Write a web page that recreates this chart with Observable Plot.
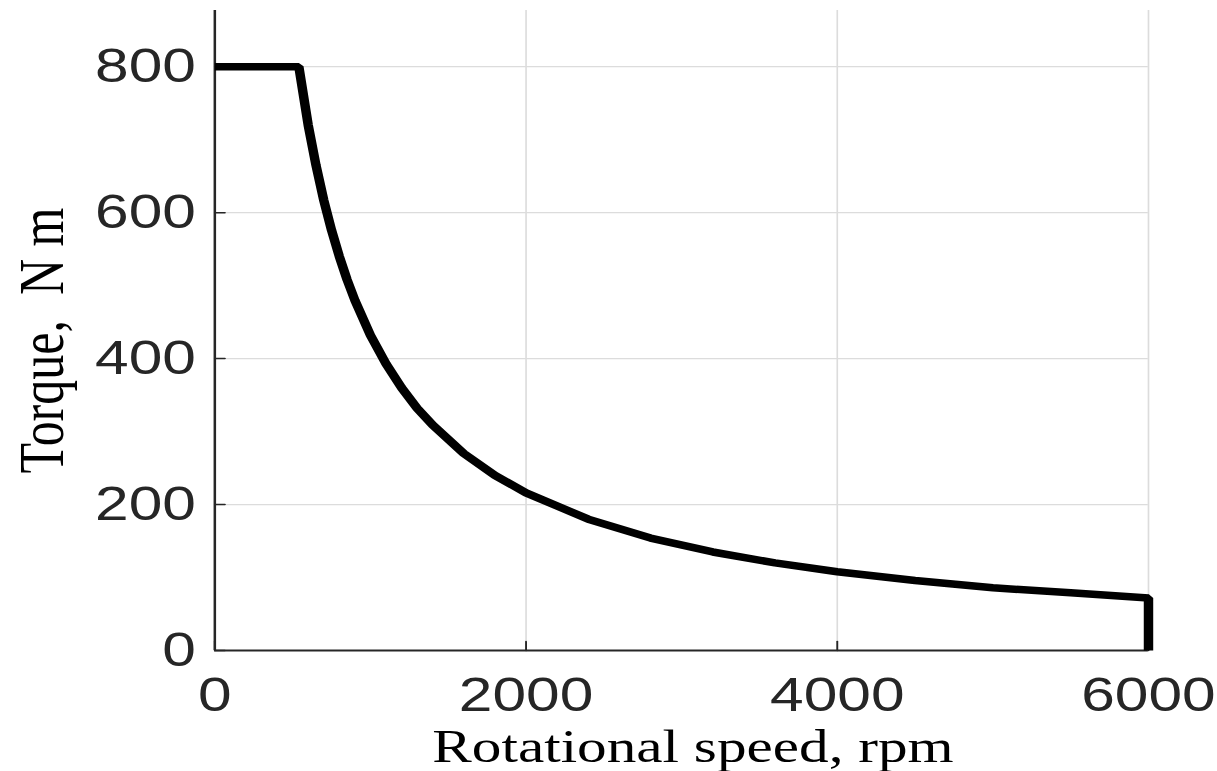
<!DOCTYPE html>
<html>
<head>
<meta charset="utf-8">
<script src="https://cdn.jsdelivr.net/npm/d3@7"></script>
<script src="https://cdn.jsdelivr.net/npm/@observablehq/plot@0.6"></script>
<style>
  html, body { margin: 0; padding: 0; background: #fff; }
  #chart { width: 1217px; height: 771px; overflow: hidden; }
  #chart svg { transform: scaleX(1.26); transform-origin: 0 0; display: block; }
</style>
</head>
<body>
<div id="chart"></div>
<script>
// Values
const speed  = [0, 540, 600, 650, 700, 750, 800, 850, 900, 1000, 1100, 1200, 1300, 1400, 1600, 1800, 2000, 2400, 2800, 3200, 3600, 4000, 4500, 5000, 5500, 6000, 6000];
const torque = [800, 800, 720, 665, 617, 576, 540, 508, 480, 432, 393, 360, 332, 309, 270, 240, 216, 180, 154, 135, 120, 108, 96, 86, 79, 72, 0];
const xTicks = [0, 2000, 4000, 6000];
const yTicks = [0, 200, 400, 600, 800];
const xGrid = [2000, 4000, 6000];
const yGrid = [200, 400, 600, 800];
const xLabel = "Rotational speed, rpm";
const yLabel = "Torque,  N m";

const data = speed.map((s, i) => ({speed: s, torque: torque[i]}));
const tickShape = {draw(ctx, l) { ctx.moveTo(0, 0); ctx.lineTo(0, -l); }};
const axisColor = "#262626";
const fmt = d3.format("d");

const svg = Plot.plot({
  width: 966,
  height: 771,
  marginLeft: 170,
  marginRight: 55,
  marginTop: 10,
  marginBottom: 121,
  style: {fontFamily: "Liberation Sans, Arial, sans-serif", background: "white", overflow: "visible"},
  x: {domain: [0, 6000]},
  y: {domain: [0, 877]},
  marks: [
    Plot.gridX(xGrid, {stroke: "#dcdcdc", strokeOpacity: 1, strokeWidth: 1.3}),
    Plot.gridY(yGrid, {stroke: "#dcdcdc", strokeOpacity: 1, strokeWidth: 1.3}),
    Plot.axisX(xTicks, {tickSize: 0, tickPadding: 26, fontSize: 48, fill: axisColor, tickFormat: fmt,
      label: xLabel, labelAnchor: "center", labelArrow: "none", labelOffset: 111}),
    Plot.axisY(yTicks, {tickSize: 0, tickPadding: 15, fontSize: 48, fill: axisColor, tickFormat: fmt,
      label: yLabel, labelAnchor: "center", labelArrow: "none", labelOffset: 156}),
    Plot.vector(xTicks, {x: d => d, frameAnchor: "bottom", length: 9, rotate: 0, anchor: "start",
      shape: tickShape, stroke: axisColor, strokeWidth: 1.5}),
    Plot.vector(yTicks, {y: d => d, frameAnchor: "left", length: 8, rotate: 90, anchor: "start",
      shape: tickShape, stroke: axisColor, strokeWidth: 1.5}),
    Plot.ruleX([0], {stroke: axisColor, strokeWidth: 2}),
    Plot.ruleY([0], {stroke: axisColor, strokeWidth: 2}),
    Plot.line(data, {x: "speed", y: "torque", stroke: "black", strokeWidth: 7.5,
      strokeLinejoin: "miter", strokeLinecap: "butt"})
  ]
});

const root = d3.select(svg);
root.selectAll('[aria-label="x-axis label"] text, [aria-label="y-axis label"] text')
  .attr("font-family", "Liberation Serif, Times New Roman, serif")
  .attr("fill", "black");
root.selectAll('[aria-label="x-axis label"] text').attr("font-size", 47);
root.selectAll('[aria-label="y-axis label"] text').attr("font-size", 50);
root.selectAll('[aria-label="x-axis label"]').each(function() {
  const t = this.getAttribute("transform") || "";
  this.setAttribute("transform", "translate(9,0) " + t);
});
root.selectAll('[aria-label="y-axis label"]').each(function() {
  const t = this.getAttribute("transform") || "";
  this.setAttribute("transform", "translate(0,10) " + t);
});

document.getElementById("chart").appendChild(svg);
</script>
</body>
</html>
